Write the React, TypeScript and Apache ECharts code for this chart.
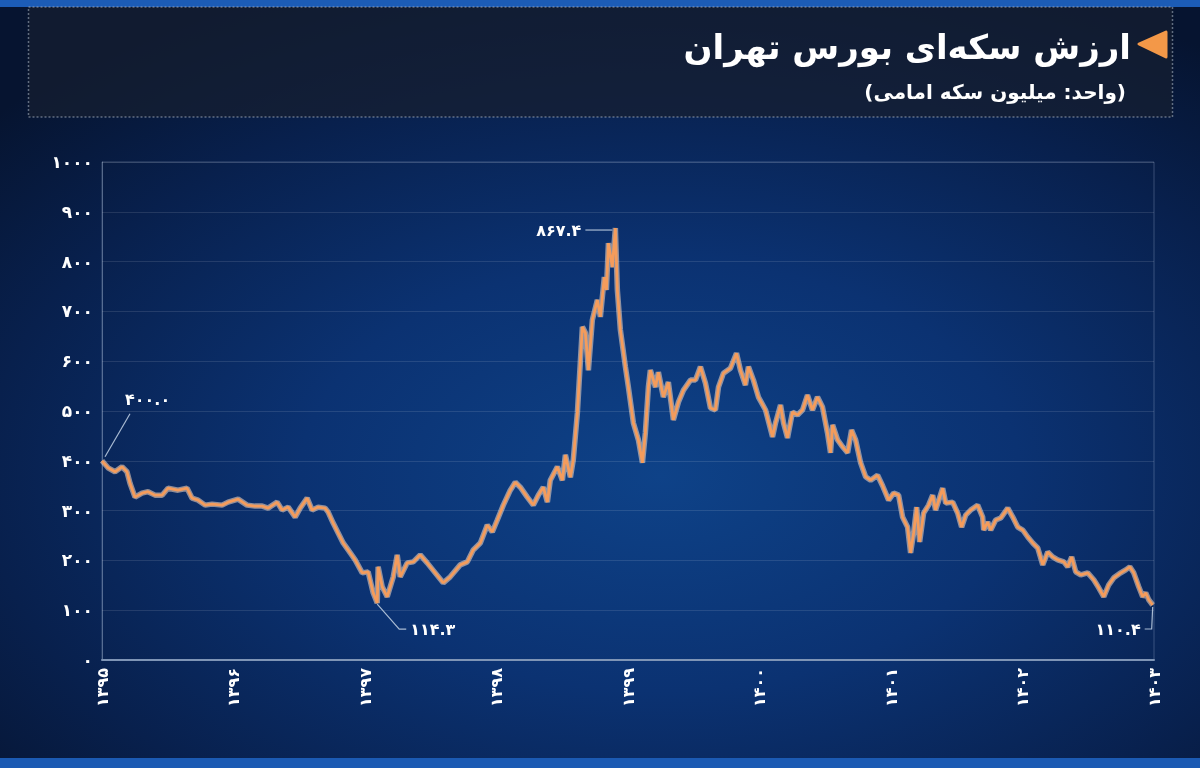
import React, { useEffect, useRef } from 'react';
import * as echarts from 'echarts';

// ---- data ----
const titleText = 'ارزش سکه‌ای بورس تهران';
const subtitleText = '\u200F(واحد: میلیون سکه امامی)\u200F';

const yearTicks = [1395, 1396, 1397, 1398, 1399, 1400, 1401, 1402, 1403];

// fractional Persian (solar hijri) years
const xYears = [
  1395.000, 1395.046, 1395.099, 1395.152, 1395.190, 1395.213, 1395.251, 1395.304, 1395.350, 1395.403,
  1395.457, 1395.502, 1395.578, 1395.647, 1395.685, 1395.731, 1395.784, 1395.837, 1395.913, 1395.959,
  1396.035, 1396.103, 1396.164, 1396.218, 1396.263, 1396.332, 1396.370, 1396.416, 1396.469, 1396.507,
  1396.560, 1396.598, 1396.644, 1396.697, 1396.720, 1396.758, 1396.796, 1396.834, 1396.872, 1396.925,
  1396.979, 1397.024, 1397.062, 1397.093, 1397.100, 1397.131, 1397.169, 1397.215, 1397.245, 1397.268,
  1397.321, 1397.367, 1397.420, 1397.473, 1397.534, 1397.595, 1397.648, 1397.724, 1397.778, 1397.823,
  1397.877, 1397.930, 1397.968, 1398.006, 1398.052, 1398.105, 1398.143, 1398.181, 1398.234, 1398.280,
  1398.318, 1398.356, 1398.387, 1398.409, 1398.463, 1398.501, 1398.524, 1398.562, 1398.584, 1398.615,
  1398.653, 1398.676, 1398.699, 1398.729, 1398.767, 1398.790, 1398.820, 1398.836, 1398.851, 1398.881,
  1398.904, 1398.919, 1398.942, 1398.980, 1399.003, 1399.041, 1399.079, 1399.110, 1399.132, 1399.155,
  1399.170, 1399.209, 1399.231, 1399.269, 1399.307, 1399.345, 1399.384, 1399.422, 1399.475, 1399.513,
  1399.551, 1399.589, 1399.627, 1399.665, 1399.688, 1399.726, 1399.779, 1399.825, 1399.855, 1399.893,
  1399.916, 1399.954, 1399.992, 1400.046, 1400.099, 1400.122, 1400.160, 1400.183, 1400.213, 1400.251,
  1400.289, 1400.327, 1400.365, 1400.403, 1400.441, 1400.479, 1400.517, 1400.540, 1400.556, 1400.594,
  1400.632, 1400.670, 1400.700, 1400.731, 1400.769, 1400.807, 1400.845, 1400.898, 1400.936, 1400.982,
  1401.020, 1401.058, 1401.088, 1401.126, 1401.149, 1401.172, 1401.195, 1401.218, 1401.248, 1401.286,
  1401.317, 1401.339, 1401.393, 1401.416, 1401.469, 1401.507, 1401.537, 1401.568, 1401.606, 1401.659,
  1401.697, 1401.705, 1401.735, 1401.758, 1401.796, 1401.834, 1401.888, 1401.926, 1401.964, 1402.002,
  1402.040, 1402.078, 1402.116, 1402.154, 1402.192, 1402.230, 1402.268, 1402.314, 1402.344, 1402.374,
  1402.405, 1402.443, 1402.496, 1402.542, 1402.580, 1402.618, 1402.656, 1402.694, 1402.747, 1402.785,
  1402.816, 1402.846, 1402.884, 1402.914, 1402.937, 1402.960, 1402.990,
];

// value in million Emami coins
const coinValue = [
  400, 386, 378, 388, 378, 355, 327, 335, 338, 331,
  331, 345, 341, 345, 325, 321, 311, 313, 311, 317,
  323, 311, 309, 309, 305, 317, 301, 307, 287, 305,
  325, 301, 307, 305, 297, 275, 255, 235, 221, 201,
  175, 177, 135, 114.3, 187, 147, 127, 167, 211, 167,
  195, 197, 211, 195, 175, 155, 167, 191, 197, 221,
  235, 271, 257, 281, 311, 341, 357, 347, 327, 311,
  331, 347, 317, 361, 388, 361, 412, 367, 402, 496,
  669, 657, 582, 683, 723, 689, 769, 743, 837, 789,
  867.4, 743, 663, 589, 548, 476, 442, 396, 456, 548,
  582, 548, 578, 528, 558, 482, 518, 542, 562, 562,
  589, 556, 506, 502, 548, 576, 586, 616, 582, 552,
  589, 562, 528, 502, 448, 476, 512, 476, 446, 498,
  492, 502, 532, 502, 528, 508, 456, 416, 472, 442,
  428, 416, 462, 442, 396, 368, 361, 371, 350, 321,
  335, 331, 287, 267, 215, 255, 307, 237, 295, 311,
  331, 301, 345, 315, 317, 295, 267, 291, 301, 311,
  287, 261, 277, 261, 281, 285, 305, 287, 267, 261,
  247, 235, 225, 191, 217, 207, 201, 197, 187, 207,
  177, 171, 175, 161, 145, 127, 151, 165, 175, 181,
  187, 175, 147, 127, 135, 121, 110.4,
];

// annotated values
const startValue = 400.0;
const peakValue = 867.4;
const lowValue = 114.3;
const lastValue = 110.4;

const FA_DIGITS = '۰۱۲۳۴۵۶۷۸۹';
const toFa = (s: string) => s.replace(/\d/g, (d) => FA_DIGITS[Number(d)]);
const fmt1 = (v: number) => toFa(v.toFixed(1));

const FONT = '"DejaVu Sans", "Noto Sans", sans-serif';

export default function App() {
  const ref = useRef<HTMLDivElement>(null);

  useEffect(() => {
    if (!ref.current) return;
    const chart = echarts.init(ref.current, null, { renderer: 'svg' });
    const data = xYears.map((x, i) => [x, coinValue[i]]);

    chart.setOption({
      animation: false,
      backgroundColor: 'transparent',
      textStyle: { fontFamily: FONT },
      grid: {
        left: 102,
        right: 46,
        top: 162,
        bottom: 108,
        show: true,
        borderColor: 'rgba(190,205,230,0.28)',
        borderWidth: 1,
        backgroundColor: 'transparent',
      },
      xAxis: {
        type: 'value',
        min: yearTicks[0],
        max: yearTicks[yearTicks.length - 1],
        interval: 1,
        axisLine: { show: true, onZero: false, lineStyle: { color: '#7f95b6', width: 2 } },
        axisTick: { show: false },
        splitLine: { show: false },
        axisLabel: {
          rotate: 90,
          color: '#ffffff',
          fontWeight: 'bold',
          fontSize: 16,
          fontFamily: FONT,
          margin: 8,
          formatter: (v: number) => toFa(String(Math.round(v))),
        },
      },
      yAxis: {
        type: 'value',
        min: 0,
        max: 1000,
        interval: 100,
        axisLine: { show: true, lineStyle: { color: 'rgba(190,205,230,0.35)', width: 1 } },
        axisTick: { show: false },
        splitLine: { show: true, lineStyle: { color: 'rgba(255,255,255,0.11)', width: 1 } },
        axisLabel: {
          color: '#ffffff',
          fontWeight: 'bold',
          fontSize: 17,
          fontFamily: FONT,
          margin: 9,
          formatter: (v: number) => toFa(String(v)),
        },
      },
      series: [
        {
          type: 'line',
          data,
          showSymbol: false,
          silent: true,
          lineStyle: { color: 'rgba(255,222,195,0.55)', width: 5.5 },
          z: 2,
        },
        {
          type: 'line',
          data,
          showSymbol: false,
          silent: true,
          lineStyle: { color: '#f49c5c', width: 2.8 },
          z: 3,
        },
      ],
    });

    const pt = (v: number) => {
      const i = coinValue.indexOf(v);
      return chart.convertToPixel({ gridIndex: 0 }, data[i]) as number[];
    };
    const ps = pt(startValue);
    const pp = pt(peakValue);
    const pl = pt(lowValue);
    const pe = pt(lastValue);

    const leader = { stroke: '#a9bbd3', lineWidth: 1.2, fill: null };
    const annText = { fill: '#ffffff', font: `bold 16px ${FONT}`, textVerticalAlign: 'middle' };

    chart.setOption({
      graphic: [
        // title box
        {
          type: 'rect',
          shape: { x: 28.5, y: 7, width: 1144, height: 110 },
          style: { fill: 'rgba(22,30,48,0.72)', stroke: 'rgba(170,180,195,0.55)', lineWidth: 1.5, lineDash: [2, 2] },
          z: 0,
        },
        {
          type: 'polygon',
          shape: { points: [[1139, 44], [1166, 32], [1166, 57]] },
          style: { fill: '#f39848', stroke: '#f39848', lineWidth: 3, lineJoin: 'round' },
        },
        {
          type: 'text',
          x: 1131,
          y: 47,
          style: {
            text: titleText,
            fill: '#ffffff',
            font: `bold 34px ${FONT}`,
            textAlign: 'right',
            textVerticalAlign: 'middle',
            shadowColor: 'rgba(0,0,0,0.6)',
            shadowBlur: 4,
            shadowOffsetY: 2,
          },
        },
        {
          type: 'text',
          x: 1126,
          y: 92,
          style: {
            text: subtitleText,
            fill: '#ffffff',
            font: `bold 20px ${FONT}`,
            textAlign: 'right',
            textVerticalAlign: 'middle',
          },
        },
        // start label
        {
          type: 'line',
          shape: { x1: ps[0] + 3, y1: ps[1] - 4, x2: ps[0] + 28, y2: ps[1] - 47 },
          style: leader,
        },
        {
          type: 'text',
          x: ps[0] + 23,
          y: ps[1] - 61,
          style: { ...annText, text: fmt1(startValue), textAlign: 'left' },
        },
        // peak label
        {
          type: 'line',
          shape: { x1: pp[0] - 3, y1: pp[1] + 2, x2: pp[0] - 30, y2: pp[1] + 2 },
          style: leader,
        },
        {
          type: 'text',
          x: pp[0] - 34,
          y: pp[1] + 2,
          style: { ...annText, text: fmt1(peakValue), textAlign: 'right' },
        },
        // low label
        {
          type: 'polyline',
          shape: { points: [[pl[0], pl[1] + 1], [pl[0] + 22, pl[1] + 26], [pl[0] + 29, pl[1] + 26]] },
          style: leader,
        },
        {
          type: 'text',
          x: pl[0] + 33,
          y: pl[1] + 26,
          style: { ...annText, text: fmt1(lowValue), textAlign: 'left' },
        },
        // last label
        {
          type: 'polyline',
          shape: { points: [[pe[0], pe[1] + 2], [pe[0] - 1, pe[1] + 24], [pe[0] - 8, pe[1] + 24]] },
          style: leader,
        },
        {
          type: 'text',
          x: pe[0] - 12,
          y: pe[1] + 24,
          style: { ...annText, text: fmt1(lastValue), textAlign: 'right' },
        },
      ],
    });

    return () => chart.dispose();
  }, []);

  return (
    <div
      style={{
        position: 'fixed',
        left: 0,
        top: 0,
        width: 1200,
        height: 768,
        overflow: 'hidden',
        background:
          'radial-gradient(ellipse 75% 70% at 55% 62%, #0e4288 0%, #0b3272 40%, #08204d 75%, #061430 100%)',
      }}
    >
      <div style={{ position: 'absolute', left: 0, top: 0, width: 1200, height: 7, background: '#1c5cb6' }} />
      <div style={{ position: 'absolute', left: 0, bottom: 0, width: 1200, height: 10, background: '#1b5ab3' }} />
      <div ref={ref} style={{ position: 'absolute', left: 0, top: 0, width: 1200, height: 768 }} />
    </div>
  );
}
